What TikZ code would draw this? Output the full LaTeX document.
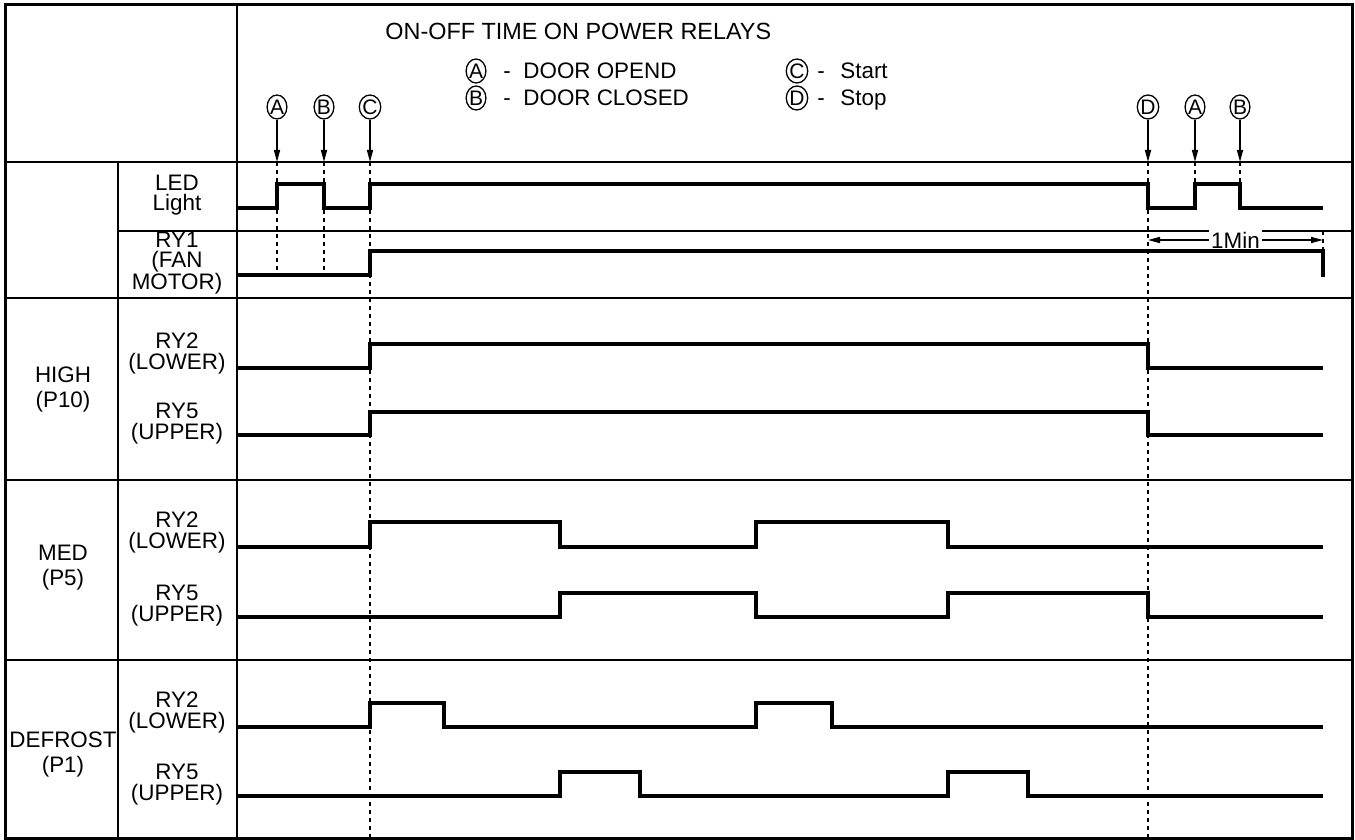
\documentclass[tikz,border=0pt]{standalone}
\usepackage{fontspec}
\setmainfont{Liberation Sans}
\usetikzlibrary{shapes.geometric,arrows.meta}
\begin{document}
\begin{tikzpicture}[x=0.5pt,y=-0.5pt,
  frame/.style={line width=1.5pt},
  rule/.style={line width=1pt},
  sig/.style={line width=1.8pt,line join=miter,line cap=butt},
  guide/.style={line width=1.1pt,dash pattern=on 2pt off 2pt},
  marker/.style={draw,ellipse,line width=0.65pt,minimum width=9pt,minimum height=12pt,inner sep=0pt,font=\fontsize{10.5}{10}\selectfont},
  ptr/.style={line width=0.8pt,-{Triangle[length=6pt,width=3pt]}},
  dim/.style={line width=0.8pt,{Triangle[length=6pt,width=3pt]}-{Triangle[length=6pt,width=3pt]}},
  lbl/.style={anchor=base,inner sep=0pt,font=\fontsize{11.2}{12}\selectfont},
  txt/.style={anchor=base west,inner sep=0pt,font=\fontsize{11.2}{12}\selectfont},
]
\useasboundingbox (0,0) rectangle (1355,840);

% grid
\draw[rule] (237,5) -- (237,838);
\draw[rule] (118,162) -- (118,838);
\draw[rule] (5,162) -- (1352,162);
\draw[rule] (118,231) -- (1352,231);
\draw[rule] (5,298) -- (1352,298);
\draw[rule] (5,480) -- (1352,480);
\draw[rule] (5,660) -- (1352,660);
\draw[frame] (5,5) rectangle (1352,838);

% title and legend
\node[txt,font=\fontsize{11.7}{12}\selectfont] (title) at (385,40) {ON-OFF TIME ON POWER RELAYS};
\node[marker] (lgA) at (476,71) {A};
\node[txt] (lgAd) at (503,79) {-};
\node[txt] (lgAt) at (523,79) {DOOR OPEND};
\node[marker] (lgB) at (476,98) {B};
\node[txt] (lgBd) at (503,106) {-};
\node[txt] (lgBt) at (523,106) {DOOR CLOSED};
\node[marker] (lgC) at (797,71) {C};
\node[txt] (lgCd) at (817,79) {-};
\node[txt] (lgCt) at (840,79) {Start};
\node[marker] (lgD) at (797,98) {D};
\node[txt] (lgDd) at (817,106) {-};
\node[txt] (lgDt) at (840,106) {Stop};

% event markers
\node[marker] (mA) at (277,107) {A};
\node[marker] (mB) at (324,107) {B};
\node[marker] (mC) at (370,107) {C};
\node[marker] (mD) at (1148,107) {D};
\node[marker] (mA2) at (1195,107) {A};
\node[marker] (mB2) at (1240,107) {B};
\coordinate (tA) at (277,162);
\coordinate (tB) at (324,162);
\coordinate (tC) at (370,162);
\coordinate (tD) at (1148,162);
\coordinate (tA2) at (1195,162);
\coordinate (tB2) at (1240,162);
\draw[ptr] (mA) -- (tA);
\draw[ptr] (mB) -- (tB);
\draw[ptr] (mC) -- (tC);
\draw[ptr] (mD) -- (tD);
\draw[ptr] (mA2) -- (tA2);
\draw[ptr] (mB2) -- (tB2);

% guides
\coordinate (gA) at (277,275);
\coordinate (gB) at (324,275);
\coordinate (gC) at (370,838);
\coordinate (gD) at (1148,838);
\coordinate (gA2) at (1195,184);
\coordinate (gB2) at (1240,184);
\draw[guide] (tA) -- (gA);
\draw[guide] (tB) -- (gB);
\draw[guide] (tC) -- (gC);
\draw[guide] (tD) -- (gD);
\draw[guide] (tA2) -- (gA2);
\draw[guide] (tB2) -- (gB2);
\coordinate (e1) at (1323,231);
\coordinate (e2) at (1323,251);
\draw[guide] (e1) -- (e2);

% 1Min
\coordinate (m1) at (1148,240);
\coordinate (m2) at (1323,240);
\draw[dim] (m1) -- node[fill=white,inner sep=1pt,font=\fontsize{11.2}{12}\selectfont] (onemin) {1Min} (m2);

% signals
\draw[sig] (237,208) -- (277,208) -- (277,184) -- (324,184) -- (324,208) -- (370,208) -- (370,184) -- (1148,184) -- (1148,208) -- (1195,208) -- (1195,184) -- (1240,184) -- (1240,208) -- (1323,208);
\draw[sig] (237,275) -- (370,275) -- (370,251) -- (1323,251) -- (1323,277);
\draw[sig] (237,368) -- (370,368) -- (370,344) -- (1148,344) -- (1148,368) -- (1323,368);
\draw[sig] (237,435) -- (370,435) -- (370,412) -- (1148,412) -- (1148,435) -- (1323,435);
\draw[sig] (237,547) -- (370,547) -- (370,522) -- (560,522) -- (560,547) -- (756,547) -- (756,522) -- (948,522) -- (948,547) -- (1323,547);
\draw[sig] (237,617) -- (560,617) -- (560,593) -- (756,593) -- (756,617) -- (948,617) -- (948,593) -- (1148,593) -- (1148,617) -- (1323,617);
\draw[sig] (237,727) -- (370,727) -- (370,703) -- (444,703) -- (444,727) -- (756,727) -- (756,703) -- (832,703) -- (832,727) -- (1323,727);
\draw[sig] (237,796) -- (560,796) -- (560,772) -- (640,772) -- (640,796) -- (948,796) -- (948,772) -- (1028,772) -- (1028,796) -- (1323,796);

% signal labels
\node[lbl] (l1a) at (177,191) {LED};
\node[lbl] (l1b) at (177,211) {Light};
\node[lbl] (l2a) at (177,247) {RY1};
\node[lbl] (l2b) at (177,267) {(FAN};
\node[lbl] (l2c) at (177,289) {MOTOR)};
\node[lbl] (l3a) at (177,348) {RY2};
\node[lbl] (l3b) at (177,369) {(LOWER)};
\node[lbl] (l4a) at (177,418) {RY5};
\node[lbl] (l4b) at (177,439) {(UPPER)};
\node[lbl] (l5a) at (177,527) {RY2};
\node[lbl] (l5b) at (177,548) {(LOWER)};
\node[lbl] (l6a) at (177,600) {RY5};
\node[lbl] (l6b) at (177,621) {(UPPER)};
\node[lbl] (l7a) at (177,707) {RY2};
\node[lbl] (l7b) at (177,728) {(LOWER)};
\node[lbl] (l8a) at (177,779) {RY5};
\node[lbl] (l8b) at (177,800) {(UPPER)};

% group labels
\node[lbl] (g1a) at (63,382) {HIGH};
\node[lbl] (g1b) at (63,407) {(P10)};
\node[lbl] (g2a) at (63,560) {MED};
\node[lbl] (g2b) at (63,585) {(P5)};
\node[lbl] (g3a) at (63,747) {DEFROST};
\node[lbl] (g3b) at (63,772) {(P1)};
\end{tikzpicture}
\end{document}
